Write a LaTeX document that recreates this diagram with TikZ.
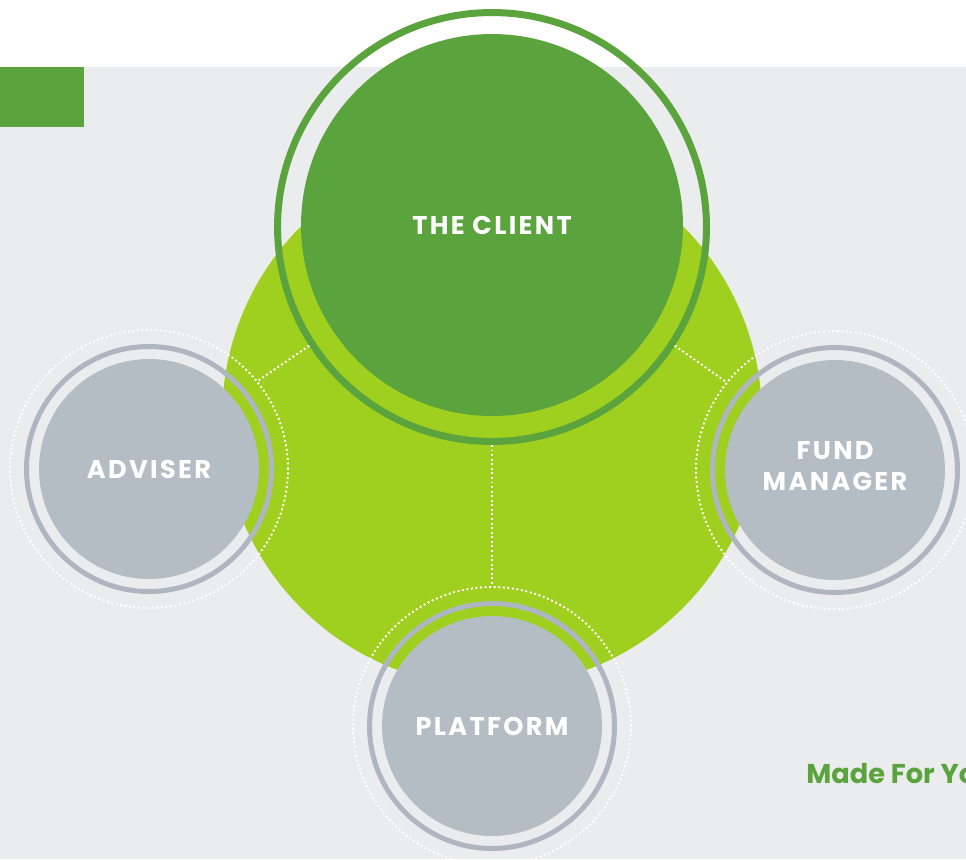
\documentclass[tikz,border=0pt]{standalone}
\usepackage{fontspec}
\newfontfamily\labelfont{Poppins}[LetterSpace=9]
\newfontfamily\taglinefont{Poppins}

\definecolor{clientgreen}{HTML}{5BA33D}
\definecolor{hubgreen}{HTML}{9FCF1F}
\definecolor{backgray}{HTML}{EBECEE}
\definecolor{partygray}{HTML}{B5BDC4}
\definecolor{ringgray}{HTML}{B0B6C1}

\begin{document}
\begin{tikzpicture}[x=0.02cm, y=-0.02cm,
	labeltext/.style={text=white, font=\labelfont\bfseries\fontsize{14.6}{18}\selectfont, align=center},
	party/.style={shape=circle, fill=partygray, minimum size=4.4cm, inner sep=0pt, labeltext},
	partyring/.style={shape=circle, draw=ringgray, line width=0.1cm, minimum size=4.9cm, inner sep=0pt},
	partydots/.style={shape=circle, draw=white, line width=1.1pt, dash pattern=on 1.1pt off 1.5pt, minimum size=5.56cm, inner sep=0pt},
	dotline/.style={draw=white, line width=1.1pt, dash pattern=on 1.1pt off 1.5pt}]
			\useasboundingbox (0,0) rectangle (966,859);
			\clip (0,0) rectangle (966,859);
			\fill[white] (0,0) rectangle (966,859);
			\fill[backgray] (0,67) rectangle (966,859);
			\fill[clientgreen] (0,67) rectangle (84,127);
			
			\node[shape=circle, fill=hubgreen, minimum size=10.8cm, inner sep=0pt] (hub) at (492,417) {};
			
			\node[partydots] (adviserdots) at (149,469) {};
			\node[partydots] (funddots) at (835,470) {};
			\node[partydots] (platformdots) at (492,726) {};
			
			\node[shape=circle, draw=clientgreen, line width=0.14cm, minimum size=8.58cm, inner sep=0pt] (clientring) at (492,227) {};
			\node[shape=circle, fill=clientgreen, minimum size=7.64cm, inner sep=0pt, labeltext] (client) at (492,225) {THE CLIENT};
			
			\path[dotline] (clientring.south) -- (platformdots.north);
			\path[dotline] (clientring.213) -- (adviserdots.39);
			\path[dotline] (clientring.327) -- (funddots.141);
			
			\node[partyring] (adviserring) at (149,469) {};
			\node[party] (adviser) at (149,469) {ADVISER};
			\node[partyring] (fundring) at (835,470) {};
			\node[party] (fund) at (835,470) {};
			\node[labeltext, inner sep=0pt] (fundlabel) at ([yshift=2.3pt]fund.center) {FUND\\MANAGER};
			\node[partyring] (platformring) at (492,726) {};
			\node[party] (platform) at (492,726) {PLATFORM};
			
			\node[anchor=base west, inner sep=0pt, text=clientgreen, font=\taglinefont\bfseries\fontsize{15.5}{18}\selectfont] (tagline) at (806,783) {Made For Yo};
		\end{tikzpicture}
\end{document}
